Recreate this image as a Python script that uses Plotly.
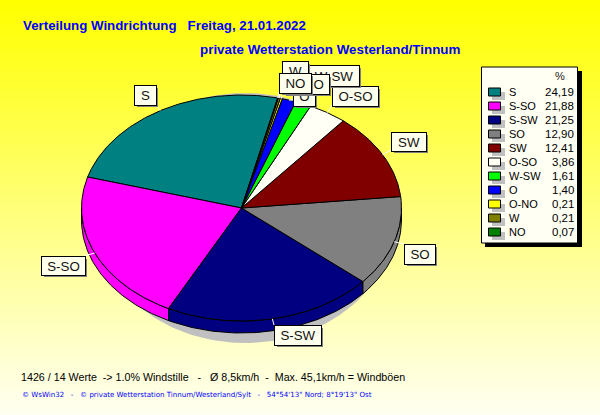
import numpy as np
import plotly.graph_objects as go

# ---- data ----
categories = ["S", "S-SO", "S-SW", "SO", "SW", "O-SO", "W-SW", "O", "O-NO", "W", "NO"]
percent = [24.19, 21.88, 21.25, 12.90, 12.41, 3.86, 1.61, 1.40, 0.21, 0.21, 0.07]
percent_labels = ["24,19", "21,88", "21,25", "12,90", "12,41", "3,86", "1,61", "1,40", "0,21", "0,21", "0,07"]
colors = ["#008080", "#ff00ff", "#000080", "#808080", "#800000", "#fffff6",
          "#00ff00", "#0000ff", "#ffff00", "#808000", "#008000"]
# label boxes: left, top, right, bottom
label_boxes = [(134, 85, 155, 104), (41, 256, 84, 274), (274, 325, 320, 344),
               (404, 244, 434, 263), (391, 132, 425, 150), (332, 86, 377, 105),
               (308, 65, 358, 85), (293, 86, 314, 105), (283, 74, 328, 93),
               (282, 61, 307, 80), (279, 73, 310, 92)]

TITLE1 = "Verteilung Windrichtung\u00a0\u00a0\u00a0Freitag, 21.01.2022"
TITLE2 = "private Wetterstation Westerland/Tinnum"
FOOT1 = "1426 / 14 Werte\u00a0\u00a0-> 1.0% Windstille\u00a0\u00a0\u00a0-\u00a0\u00a0\u00a0Ø 8,5km/h\u00a0\u00a0-\u00a0\u00a0Max. 45,1km/h = Windböen"
FOOT2 = "© WsWin32\u00a0\u00a0\u00a0-\u00a0\u00a0\u00a0© private Wetterstation Tinnum/Westerland/Sylt\u00a0\u00a0\u00a0-\u00a0\u00a0\u00a054°54'13\" Nord; 8°19'13\" Ost"

# ---- geometry ----
CX, CY, RX, RY, DEPTH = 241.5, 208.0, 160.0, 113.0, 12.0
START = 77.0
FONT = "Liberation Sans"

frac = np.array(percent) / sum(percent) * 360.0
a0 = START + np.concatenate([[0], np.cumsum(frac)[:-1]])
a1 = a0 + frac


def rim(deg, dy=0.0):
    t = np.radians(deg)
    return CX + RX * np.cos(t), CY - RY * np.sin(t) + dy


def poly(xs, ys, fill, line="black", width=1):
    return go.Scatter(x=list(xs), y=list(ys), mode="lines", fill="toself", fillcolor=fill,
                      line=dict(color=line, width=width), hoverinfo="skip", showlegend=False)


fig = go.Figure()

# background gradient
rows = np.arange(0, 415, 5)
fig.add_trace(go.Heatmap(z=[[r / 415] for r in rows], x0=300, dx=600, y0=2.5, dy=5,
                         colorscale=[[0, "#ffff00"], [1, "#fffff4"]], zmin=0, zmax=1,
                         showscale=False, hoverinfo="skip"))

# pie shadow
t = np.linspace(0, 2 * np.pi, 200)
fig.add_trace(poly(245 + 150 * np.cos(t), 218 + 125 * np.sin(t), "#c0c0c0", "#c0c0c0", 0))

# walls on the front half
for a, b, c in zip(a0, a1, colors):
    for shift in (0, 360):
        l, h = max(a, 180.0 + shift), min(b, 360.0 + shift)
        if h > l:
            d = np.linspace(l, h, 80)
            x, y = rim(d)
            xb, yb = rim(d[::-1], DEPTH)
            fig.add_trace(poly(np.r_[x, xb, x[0]], np.r_[y, yb, y[0]], c))

# top slices
for a, b, c in zip(a0, a1, colors):
    d = np.linspace(a, b, max(4, int(b - a) * 2))
    x, y = rim(d)
    fig.add_trace(poly(np.r_[CX, x, CX], np.r_[CY, y, CY], c))

# leader lines
for a, b, box in zip(a0, a1, label_boxes):
    mx, my = rim((a + b) / 2)
    ex = min(max(mx, box[0]), box[2])
    ey = min(max(my, box[1]), box[3])
    fig.add_trace(go.Scatter(x=[mx, ex], y=[my, ey], mode="lines", line=dict(color="white", width=1),
                             hoverinfo="skip", showlegend=False))

ann = []


def text(x, y, s, size=11.5, color="#000000", anchor="left", weight="normal", family=FONT):
    # annotations carry about 2 px of built-in padding
    x = x - 2 if anchor == "left" else (x + 2 if anchor == "right" else x)
    ann.append(dict(x=x, y=y, text=s, xref="x", yref="y", xanchor=anchor, yanchor="middle",
                    showarrow=False, font=dict(family=family, size=size, color=color, weight=weight)))


# label boxes, in stacking order
for name, (l, t_, r, b_) in zip(categories, label_boxes):
    ann.append(dict(x=l + 3, y=t_ + 3, xref="x", yref="y", xanchor="left", yanchor="top", text=" ",
                    width=r - l, height=b_ - t_, bgcolor="#808080", borderwidth=0, borderpad=0, showarrow=False,
                    font=dict(size=8)))
    ann.append(dict(x=l, y=t_, xref="x", yref="y", xanchor="left", yanchor="top", text=name,
                    width=r - l, height=b_ - t_, bgcolor="#ffffee", bordercolor="black", borderwidth=1,
                    borderpad=0, showarrow=False, align="center", valign="middle",
                    font=dict(family=FONT, size=13.3, color="#111111")))

# titles and footers
text(23, 25, TITLE1, size=13.3, color="#0000ff", weight="bold")
text(200, 49, TITLE2, size=13.4, color="#0000ff", weight="bold")
text(21, 377, FOOT1, size=10.7)
text(22, 394, FOOT2, size=7.05, color="#0000ff", family="DejaVu Sans")

# legend panel
shapes = [
    dict(type="rect", x0=485, y0=71, x1=582, y1=247, fillcolor="#000000", line_width=0, layer="above"),
    dict(type="rect", x0=481.5, y0=67, x1=577.5, y1=243, fillcolor="#fffff4",
         line=dict(color="black", width=1), layer="above"),
]
text(560, 76, "%", size=11, color="#222222", anchor="center")
for i, (name, lab, c) in enumerate(zip(categories, percent_labels, colors)):
    yc = 92 + i * 14
    shapes.append(dict(type="rect", x0=492, y0=yc - 0, x1=505, y1=yc + 8, fillcolor="#c0c0c0",
                       line_width=0, layer="above"))
    shapes.append(dict(type="rect", x0=488.5, y0=yc - 4, x1=500.5, y1=yc + 4, fillcolor=c,
                       line=dict(color="black", width=1), layer="above"))
    text(509, yc, name, size=11)
    text(573.5, yc, lab, size=11.5, anchor="right")

fig.update_layout(
    width=600, height=415, margin=dict(l=0, r=0, t=0, b=0), autosize=False,
    paper_bgcolor="#ffff80", plot_bgcolor="#ffff80", showlegend=False,
    xaxis=dict(range=[0, 600], visible=False, fixedrange=True),
    yaxis=dict(range=[415, 0], visible=False, fixedrange=True),
    annotations=ann, shapes=shapes,
)
fig.write_html("out.html", config=dict(displayModeBar=False),
               post_script="document.body.style.margin='0';document.documentElement.style.overflow='hidden';")
